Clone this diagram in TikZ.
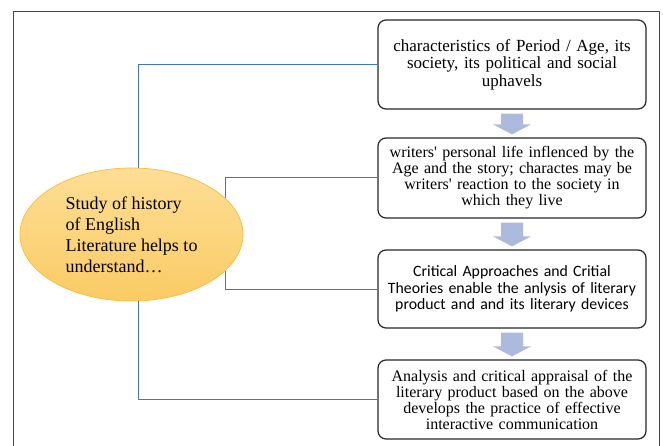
\documentclass[tikz,border=0pt]{standalone}
\usepackage{fontspec}
\setmainfont{Liberation Serif}
\newfontfamily\sansfont{Carlito}
\usetikzlibrary{calc, shapes.geometric}

\definecolor{linkblue}{RGB}{68,114,196}
\definecolor{arrowblue}{RGB}{172,186,222}
\definecolor{ovaltop}{RGB}{253,222,150}
\definecolor{ovalbottom}{RGB}{250,203,100}
\definecolor{ovalline}{RGB}{246,192,70}
\definecolor{framegray}{RGB}{70,70,70}

\begin{document}
\begin{tikzpicture}[x=1pt, y=-1pt,
    stagebox/.style={draw=black!85, line width=1.2pt, rounded corners=8pt,
      minimum width=268pt, text width=262pt, align=center, inner sep=0pt,
      font=\fontsize{16}{16}\selectfont},
    oval/.style={ellipse, draw=ovalline, line width=0.8pt, top color=ovaltop,
      bottom color=ovalbottom, minimum width=223pt, minimum height=133pt,
      inner sep=0pt, align=left, font=\fontsize{18}{21}\selectfont},
    link/.style={linkblue, line width=1pt},
    downarrow/.style={arrowblue}]
    \useasboundingbox (0,0) rectangle (663,446);
    \draw[framegray, line width=1pt] (13,446) -- (13,12) -- (659,12) -- (659,446);

    \node[stagebox, minimum height=89pt, font=\fontsize{17}{17.5}\selectfont] (b1) at (512,64.5)
      {characteristics of Period / Age, its\\ society, its political and social\\ uphavels};
    \node[stagebox, minimum height=80pt] (b2) at (512,178)
      {writers\textquotesingle{} personal life inflenced by the\\ Age and the story; charactes may be\\ writers\textquotesingle{} reaction to the society in\\ which they live};
    \node[stagebox, minimum height=78pt, font=\sansfont\fontsize{15.8}{16.7}\selectfont] (b3) at (512,289)
      {Critical Approaches and Critial\\ Theories enable the anlysis of literary\\ product and and its literary devices};
    \node[stagebox, minimum height=79pt] (b4) at (512,399.5)
      {Analysis and critical appraisal of the\\ literary product based on the above\\ develops the practice of effective\\ interactive communication};

    \node[oval] (study) at (131.5,234.5)
      {Study of history\\ of English\\ Literature helps to\\ understand…};

    % links from the oval to each box
    \draw[link] (study.84) |- (b1.west);
    \draw[link] (study.21) |- (b2.west);
    \draw[link] (study.-21) |- (b3.west);
    \draw[link] (study.-84) |- (b4.west);

    % block arrows between the boxes
    \foreach \a/\b in {b1/b2, b2/b3, b3/b4}
      \fill[downarrow] ($(\a.south)+(-11,4)$) -- ($(\a.south)+(11,4)$)
        -- ($(\b.north)+(11,-13)$) -- ($(\b.north)+(19,-13)$)
        -- ($(\b.north)+(0,-3)$) -- ($(\b.north)+(-19,-13)$)
        -- ($(\b.north)+(-11,-13)$) -- cycle;
\end{tikzpicture}
\end{document}
